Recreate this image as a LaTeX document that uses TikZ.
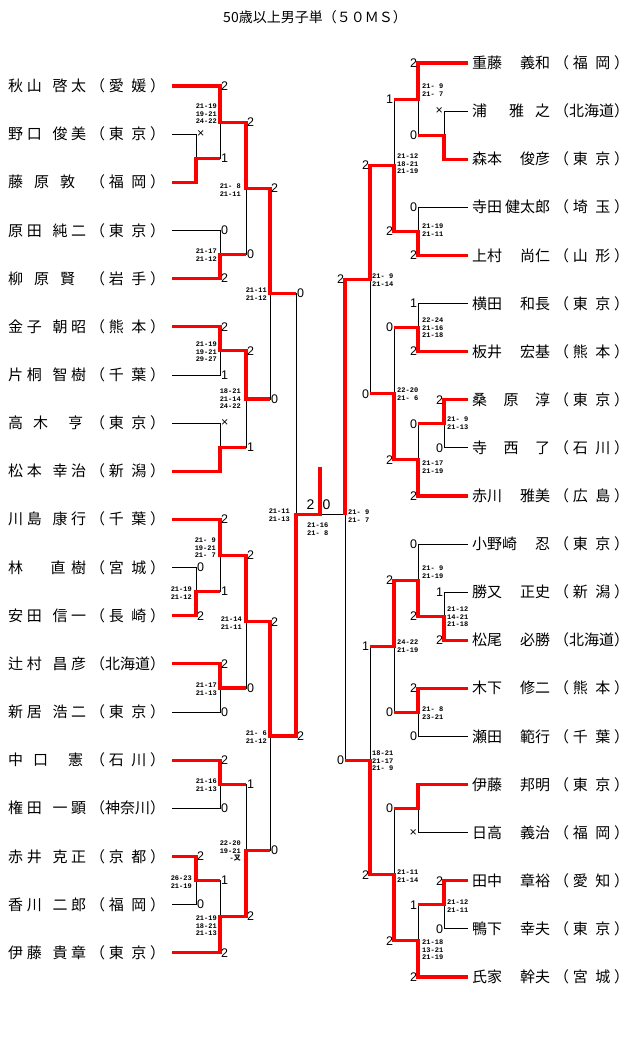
\documentclass[tikz,border=0pt]{standalone}
\usepackage{fontspec}
\setmainfont{Liberation Sans}
\newfontfamily\jp{Noto Sans CJK JP}
\newfontfamily\scorefont{Liberation Mono}
\newcommand{\lnm}[2]{\makebox[78pt][s]{#1}\kern4pt\makebox[75pt][s]{#2}\kern7pt}
\newcommand{\rnm}[2]{\kern4pt\makebox[78pt][s]{#1}\kern4pt\makebox[75pt][s]{#2}}
\newcommand{\pf}[2]{（\hfil #1\hfil\hfil #2\hfil ）}
\newcommand{\pft}[3]{（\hfil #1\hfil #2\hfil #3\hfil ）}

\begin{document}
\begin{tikzpicture}[x=1pt, y=-1pt,
  bl/.style={line width=0.8pt},
  rd/.style={line width=3.2pt, red, line join=miter},
  pl/.style={anchor=west, inner sep=0pt, text height=11.2pt, text depth=0pt, font=\jp\fontsize{15}{15}\selectfont},
  ptl/.style={anchor=west, inner sep=0.8pt, font=\fontsize{12.5}{13}\selectfont},
  ptr/.style={ptl, anchor=east},
  gsl/.style={anchor=east, inner sep=0pt, align=right, font=\scorefont\bfseries\fontsize{7}{7.5}\selectfont},
  gsr/.style={gsl, anchor=west, align=left}]
  \useasboundingbox (0,0) rectangle (640,1053);

  \node (title) at (315,17.5) {\jp\fontsize{14}{14}\selectfont 50歳以上男子単（５０ＭＳ）};

  \node[pl] (l1) at (8,86) {\lnm{秋\hfil 山\hfil\hfil\hfil 啓\hfil 太}{\pf{愛}{媛}}};
  \node[pl] (l2) at (8,134.15) {\lnm{野\hfil 口\hfil\hfil\hfil 俊\hfil 美}{\pf{東}{京}}};
  \node[pl] (l3) at (8,182.3) {\lnm{藤\hfil 原\hfil 敦\hfil}{\pf{福}{岡}}};
  \node[pl] (l4) at (8,230.45) {\lnm{原\hfil 田\hfil\hfil\hfil 純\hfil 二}{\pf{東}{京}}};
  \node[pl] (l5) at (8,278.6) {\lnm{柳\hfil 原\hfil 賢\hfil}{\pf{岩}{手}}};
  \node[pl] (l6) at (8,326.75) {\lnm{金\hfil 子\hfil\hfil\hfil 朝\hfil 昭}{\pf{熊}{本}}};
  \node[pl] (l7) at (8,374.9) {\lnm{片\hfil 桐\hfil\hfil\hfil 智\hfil 樹}{\pf{千}{葉}}};
  \node[pl] (l8) at (8,423.05) {\lnm{高\hfil 木\hfil\hfil 亨\hskip 0pt plus .3fil}{\pf{東}{京}}};
  \node[pl] (l9) at (8,471.2) {\lnm{松\hfil 本\hfil\hfil\hfil 幸\hfil 治}{\pf{新}{潟}}};
  \node[pl] (l10) at (8,519.35) {\lnm{川\hfil 島\hfil\hfil\hfil 康\hfil 行}{\pf{千}{葉}}};
  \node[pl] (l11) at (8,567.5) {\lnm{林\hskip 0pt plus 5fil 直\hfil 樹}{\pf{宮}{城}}};
  \node[pl] (l12) at (8,615.65) {\lnm{安\hfil 田\hfil\hfil\hfil 信\hfil 一}{\pf{長}{崎}}};
  \node[pl] (l13) at (8,663.8) {\lnm{辻\hfil 村\hfil\hfil\hfil 昌\hfil 彦}{\pft{北}{海}{道}}};
  \node[pl] (l14) at (8,711.95) {\lnm{新\hfil 居\hfil\hfil\hfil 浩\hfil 二}{\pf{東}{京}}};
  \node[pl] (l15) at (8,760.1) {\lnm{中\hfil 口\hfil\hfil 憲\hskip 0pt plus .3fil}{\pf{石}{川}}};
  \node[pl] (l16) at (8,808.25) {\lnm{権\hfil 田\hfil\hfil\hfil 一\hfil 顕}{\pft{神}{奈}{川}}};
  \node[pl] (l17) at (8,856.4) {\lnm{赤\hfil 井\hfil\hfil\hfil 克\hfil 正}{\pf{京}{都}}};
  \node[pl] (l18) at (8,904.55) {\lnm{香\hfil 川\hfil\hfil\hfil 二\hfil 郎}{\pf{福}{岡}}};
  \node[pl] (l19) at (8,952.7) {\lnm{伊\hfil 藤\hfil\hfil\hfil 貴\hfil 章}{\pf{東}{京}}};

  \node[pl] (r1) at (468,63) {\rnm{重藤\hfil 義和}{\pf{福}{岡}}};
  \node[pl] (r2) at (468,111.1) {\rnm{浦\hskip 0pt plus 2fil 雅\hfil 之}{\pft{北}{海}{道}}};
  \node[pl] (r3) at (468,159.2) {\rnm{森本\hfil 俊彦}{\pf{東}{京}}};
  \node[pl] (r4) at (468,207.3) {\rnm{寺田\hfil 健太郎}{\pf{埼}{玉}}};
  \node[pl] (r5) at (468,255.4) {\rnm{上村\hfil 尚仁}{\pf{山}{形}}};
  \node[pl] (r6) at (468,303.5) {\rnm{横田\hfil 和長}{\pf{東}{京}}};
  \node[pl] (r7) at (468,351.6) {\rnm{板井\hfil 宏基}{\pf{熊}{本}}};
  \node[pl] (r8) at (468,399.7) {\rnm{桑\hfil 原\hfil 淳}{\pf{東}{京}}};
  \node[pl] (r9) at (468,447.8) {\rnm{寺\hfil 西\hfil 了}{\pf{石}{川}}};
  \node[pl] (r10) at (468,495.9) {\rnm{赤川\hfil 雅美}{\pf{広}{島}}};
  \node[pl] (r11) at (468,544) {\rnm{小野崎\hfil 忍}{\pf{東}{京}}};
  \node[pl] (r12) at (468,592.1) {\rnm{勝又\hfil 正史}{\pf{新}{潟}}};
  \node[pl] (r13) at (468,640.2) {\rnm{松尾\hfil 必勝}{\pft{北}{海}{道}}};
  \node[pl] (r14) at (468,688.3) {\rnm{木下\hfil 修二}{\pf{熊}{本}}};
  \node[pl] (r15) at (468,736.4) {\rnm{瀬田\hfil 範行}{\pf{千}{葉}}};
  \node[pl] (r16) at (468,784.5) {\rnm{伊藤\hfil 邦明}{\pf{東}{京}}};
  \node[pl] (r17) at (468,832.6) {\rnm{日高\hfil 義治}{\pf{福}{岡}}};
  \node[pl] (r18) at (468,880.7) {\rnm{田中\hfil 章裕}{\pf{愛}{知}}};
  \node[pl] (r19) at (468,928.8) {\rnm{鴨下\hfil 幸夫}{\pf{東}{京}}};
  \node[pl] (r20) at (468,976.9) {\rnm{氏家\hfil 幹夫}{\pf{宮}{城}}};

  \coordinate (m1) at (196,158.2);
  \coordinate (m2) at (220,122.1);
  \coordinate (m3) at (220,254.5);
  \coordinate (m4) at (246,188.3);
  \coordinate (n1) at (220,350.8);
  \coordinate (n2) at (220,447.1);
  \coordinate (n3) at (246,399);
  \coordinate (q1) at (270,293.6);
  \coordinate (c1) at (196,591.6);
  \coordinate (c2) at (220,555.5);
  \coordinate (c3) at (220,687.9);
  \coordinate (c4) at (246,621.7);
  \coordinate (d1) at (220,784.2);
  \coordinate (d2) at (196,880.5);
  \coordinate (d3) at (220,916.6);
  \coordinate (d4) at (246,850.4);
  \coordinate (q2) at (270,736);
  \coordinate (s1) at (296,514.8);
  \coordinate (fin) at (320,514.8);
  \coordinate (champ) at (320,467);

  \coordinate (e1) at (444,135.2);
  \coordinate (e2) at (418,99.1);
  \coordinate (e3) at (418,231.4);
  \coordinate (e4) at (394,165.2);
  \coordinate (f1) at (418,327.6);
  \coordinate (f2) at (444,423.8);
  \coordinate (f3) at (418,459.8);
  \coordinate (f4) at (394,393.7);
  \coordinate (p1) at (370,279.5);
  \coordinate (g1) at (444,616.2);
  \coordinate (g2) at (418,580.1);
  \coordinate (g3) at (418,712.4);
  \coordinate (g4) at (394,646.2);
  \coordinate (h1) at (418,808.6);
  \coordinate (h2) at (444,904.8);
  \coordinate (h3) at (418,940.8);
  \coordinate (h4) at (394,874.7);
  \coordinate (p2) at (370,760.5);
  \coordinate (s2) at (345,514.8);

  \draw[bl] (l2.east) -| (m1) (l3.east) -| (m1);
  \draw[bl] (l1.east) -| (m2) (m1) -| (m2);
  \draw[bl] (l4.east) -| (m3) (l5.east) -| (m3);
  \draw[bl] (m2) -| (m4) (m3) -| (m4);
  \draw[bl] (l6.east) -| (n1) (l7.east) -| (n1);
  \draw[bl] (l8.east) -| (n2) (l9.east) -| (n2);
  \draw[bl] (n1) -| (n3) (n2) -| (n3);
  \draw[bl] (m4) -| (q1) (n3) -| (q1);
  \draw[bl] (l11.east) -| (c1) (l12.east) -| (c1);
  \draw[bl] (l10.east) -| (c2) (c1) -| (c2);
  \draw[bl] (l13.east) -| (c3) (l14.east) -| (c3);
  \draw[bl] (c2) -| (c4) (c3) -| (c4);
  \draw[bl] (l15.east) -| (d1) (l16.east) -| (d1);
  \draw[bl] (l17.east) -| (d2) (l18.east) -| (d2);
  \draw[bl] (d2) -| (d3) (l19.east) -| (d3);
  \draw[bl] (d1) -| (d4) (d3) -| (d4);
  \draw[bl] (c4) -| (q2) (d4) -| (q2);
  \draw[bl] (q1) -| (s1) (q2) -| (s1);
  \draw[bl] (s2) -- (fin);

  \draw[bl] (r2.west) -| (e1) (r3.west) -| (e1);
  \draw[bl] (r1.west) -| (e2) (e1) -| (e2);
  \draw[bl] (r4.west) -| (e3) (r5.west) -| (e3);
  \draw[bl] (e2) -| (e4) (e3) -| (e4);
  \draw[bl] (r6.west) -| (f1) (r7.west) -| (f1);
  \draw[bl] (r8.west) -| (f2) (r9.west) -| (f2);
  \draw[bl] (f2) -| (f3) (r10.west) -| (f3);
  \draw[bl] (f1) -| (f4) (f3) -| (f4);
  \draw[bl] (e4) -| (p1) (f4) -| (p1);
  \draw[bl] (r12.west) -| (g1) (r13.west) -| (g1);
  \draw[bl] (r11.west) -| (g2) (g1) -| (g2);
  \draw[bl] (r14.west) -| (g3) (r15.west) -| (g3);
  \draw[bl] (g2) -| (g4) (g3) -| (g4);
  \draw[bl] (r16.west) -| (h1) (r17.west) -| (h1);
  \draw[bl] (r18.west) -| (h2) (r19.west) -| (h2);
  \draw[bl] (h2) -| (h3) (r20.west) -| (h3);
  \draw[bl] (h1) -| (h4) (h3) -| (h4);
  \draw[bl] (g4) -| (p2) (h4) -| (p2);
  \draw[bl] (p1) -| (s2) (p2) -| (s2);

  \draw[rd] (l1.east) -| (m2) -| (m4) -| (q1) -- (q1 -| s1);
  \draw[rd] (l3.east) -| (m1) -- (m1 -| m2);
  \draw[rd] (l5.east) -| (m3) -- (m3 -| m4);
  \draw[rd] (l6.east) -| (n1) -| (n3) -- (n3 -| q1);
  \draw[rd] (l9.east) -| (n2) -- (n2 -| n3);
  \draw[rd] (l10.east) -| (c2) -| (c4) -| (q2) -| (s1) -- (fin) -- (champ);
  \draw[rd] (l12.east) -| (c1) -- (c1 -| c2);
  \draw[rd] (l13.east) -| (c3) -- (c3 -| c4);
  \draw[rd] (l15.east) -| (d1) -- (d1 -| d4);
  \draw[rd] (l17.east) -| (d2) -- (d2 -| d3);
  \draw[rd] (l19.east) -| (d3) -| (d4) -- (d4 -| q2);

  \draw[rd] (r1.west) -| (e2) -- (e2 -| e4);
  \draw[rd] (r3.west) -| (e1) -- (e1 -| e2);
  \draw[rd] (r5.west) -| (e3) -| (e4) -| (p1) -| (s2);
  \draw[rd] (r7.west) -| (f1) -- (f1 -| f4);
  \draw[rd] (r8.west) -| (f2) -- (f2 -| f3);
  \draw[rd] (r10.west) -| (f3) -| (f4) -- (f4 -| p1);
  \draw[rd] (r13.west) -| (g1) -| (g2) -| (g4) -- (g4 -| p2);
  \draw[rd] (r14.west) -| (g3) -- (g3 -| g4);
  \draw[rd] (r16.west) -| (h1) -- (h1 -| h4);
  \draw[rd] (r18.west) -| (h2) -- (h2 -| h3);
  \draw[rd] (r20.west) -| (h3) -| (h4) -| (p2) -- (p2 -| s2);

  \node[ptl] (m1a) at (m1 |- l2.east) {×};
  \node[ptl] (m2a) at (m2 |- l1.east) {2};
  \node[ptl] (m2b) at (m2 |- m1) {1};
  \node[ptl] (m3a) at (m3 |- l4.east) {0};
  \node[ptl] (m3b) at (m3 |- l5.east) {2};
  \node[ptl] (m4a) at (m4 |- m2) {2};
  \node[ptl] (m4b) at (m4 |- m3) {0};
  \node[ptl] (n1a) at (n1 |- l6.east) {2};
  \node[ptl] (n1b) at (n1 |- l7.east) {1};
  \node[ptl] (n2a) at (n2 |- l8.east) {×};
  \node[ptl] (n3a) at (n3 |- n1) {2};
  \node[ptl] (n3b) at (n3 |- n2) {1};
  \node[ptl] (q1a) at (q1 |- m4) {2};
  \node[ptl] (q1b) at (q1 |- n3) {0};
  \node[ptl] (s1a) at (s1 |- q1) {0};
  \node[ptl] (s1b) at (s1 |- q2) {2};
  \node[ptl] (c1a) at (c1 |- l11.east) {0};
  \node[ptl] (c1b) at (c1 |- l12.east) {2};
  \node[ptl] (c2a) at (c2 |- l10.east) {2};
  \node[ptl] (c2b) at (c2 |- c1) {1};
  \node[ptl] (c3a) at (c3 |- l13.east) {2};
  \node[ptl] (c3b) at (c3 |- l14.east) {0};
  \node[ptl] (c4a) at (c4 |- c2) {2};
  \node[ptl] (c4b) at (c4 |- c3) {0};
  \node[ptl] (d1a) at (d1 |- l15.east) {2};
  \node[ptl] (d1b) at (d1 |- l16.east) {0};
  \node[ptl] (d2a) at (d2 |- l17.east) {2};
  \node[ptl] (d2b) at (d2 |- l18.east) {0};
  \node[ptl] (d3a) at (d3 |- d2) {1};
  \node[ptl] (d3b) at (d3 |- l19.east) {2};
  \node[ptl] (d4a) at (d4 |- d1) {1};
  \node[ptl] (d4b) at (d4 |- d3) {2};
  \node[ptl] (q2a) at (q2 |- c4) {2};
  \node[ptl] (q2b) at (q2 |- d4) {0};
  \node[ptl, font=\fontsize{14}{14}\selectfont] (fa) at (305.5,505) {2};
  \node[ptl, font=\fontsize{14}{14}\selectfont] (fb) at (321.5,505) {0};

  \node[ptr] (e1a) at (e1 |- r2.west) {×};
  \node[ptr] (e2a) at (e2 |- r1.west) {2};
  \node[ptr] (e2b) at (e2 |- e1) {0};
  \node[ptr] (e3a) at (e3 |- r4.west) {0};
  \node[ptr] (e3b) at (e3 |- r5.west) {2};
  \node[ptr] (e4a) at (e4 |- e2) {1};
  \node[ptr] (e4b) at (e4 |- e3) {2};
  \node[ptr] (f1a) at (f1 |- r6.west) {1};
  \node[ptr] (f1b) at (f1 |- r7.west) {2};
  \node[ptr] (f2a) at (f2 |- r8.west) {2};
  \node[ptr] (f2b) at (f2 |- r9.west) {0};
  \node[ptr] (f3a) at (f3 |- f2) {0};
  \node[ptr] (f3b) at (f3 |- r10.west) {2};
  \node[ptr] (f4a) at (f4 |- f1) {0};
  \node[ptr] (f4b) at (f4 |- f3) {2};
  \node[ptr] (p1a) at (p1 |- e4) {2};
  \node[ptr] (p1b) at (p1 |- f4) {0};
  \node[ptr] (s2a) at (s2 |- p1) {2};
  \node[ptr] (s2b) at (s2 |- p2) {0};
  \node[ptr] (g1a) at (g1 |- r12.west) {1};
  \node[ptr] (g1b) at (g1 |- r13.west) {2};
  \node[ptr] (g2a) at (g2 |- r11.west) {0};
  \node[ptr] (g2b) at (g2 |- g1) {2};
  \node[ptr] (g3a) at (g3 |- r14.west) {2};
  \node[ptr] (g3b) at (g3 |- r15.west) {0};
  \node[ptr] (g4a) at (g4 |- g2) {2};
  \node[ptr] (g4b) at (g4 |- g3) {0};
  \node[ptr] (h1b) at (h1 |- r17.west) {×};
  \node[ptr] (h2a) at (h2 |- r18.west) {2};
  \node[ptr] (h2b) at (h2 |- r19.west) {0};
  \node[ptr] (h3a) at (h3 |- h2) {1};
  \node[ptr] (h3b) at (h3 |- r20.west) {2};
  \node[ptr] (h4a) at (h4 |- h1) {0};
  \node[ptr] (h4b) at (h4 |- h3) {2};
  \node[ptr] (p2a) at (p2 |- g4) {1};
  \node[ptr] (p2b) at (p2 |- h4) {2};

  \node[gsl] (gm2) at (217,114) {21-19\\19-21\\24-22};
  \node[gsl] (gm3) at (217,255) {21-17\\21-12};
  \node[gsl] (gm4) at (241,190) {21- 8\\21-11};
  \node[gsl] (gn1) at (217,352) {21-19\\19-21\\29-27};
  \node[gsl] (gn3) at (241,399) {18-21\\21-14\\24-22};
  \node[gsl] (gq1) at (267,294) {21-11\\21-12};
  \node[gsl] (gs1) at (290,515) {21-11\\21-13};
  \node[gsl] (gc1) at (192,593) {21-19\\21-12};
  \node[gsl] (gc2) at (216,548) {21- 9\\19-21\\21- 7};
  \node[gsl] (gc3) at (217,689) {21-17\\21-13};
  \node[gsl] (gc4) at (242,623) {21-14\\21-11};
  \node[gsl] (gq2) at (267,737) {21- 6\\21-12};
  \node[gsl] (gd1) at (217,785) {21-16\\21-13};
  \node[gsl] (gd2) at (192,882) {26-23\\21-19};
  \node[gsl] (gd3) at (217,926) {21-19\\18-21\\21-13};
  \node[gsl] (gd4) at (241,851) {22-20\\19-21\\-{\jp 又}};
  \node[gsr] (gfin) at (307,529) {21-16\\21- 8};

  \node[gsr] (ge2) at (422,90) {21- 9\\21- 7};
  \node[gsr] (ge3) at (422,230) {21-19\\21-11};
  \node[gsr] (ge4) at (397,164) {21-12\\18-21\\21-19};
  \node[gsr] (gp1) at (372,280) {21- 9\\21-14};
  \node[gsr] (gf1) at (422,328) {22-24\\21-16\\21-18};
  \node[gsr] (gf2) at (447,423) {21- 9\\21-13};
  \node[gsr] (gf3) at (422,467) {21-17\\21-19};
  \node[gsr] (gf4) at (397,394) {22-20\\21- 6};
  \node[gsr] (gs2) at (348,516) {21- 9\\21- 7};
  \node[gsr] (gg1) at (447,617) {21-12\\14-21\\21-18};
  \node[gsr] (gg2) at (422,572) {21- 9\\21-19};
  \node[gsr] (gg3) at (422,713) {21- 8\\23-21};
  \node[gsr] (gg4) at (397,646) {24-22\\21-19};
  \node[gsr] (gp2) at (372,761) {18-21\\21-17\\21- 9};
  \node[gsr] (gh2) at (447,906) {21-12\\21-11};
  \node[gsr] (gh3) at (422,950) {21-18\\13-21\\21-19};
  \node[gsr] (gh4) at (397,876) {21-11\\21-14};
\end{tikzpicture}
\end{document}
